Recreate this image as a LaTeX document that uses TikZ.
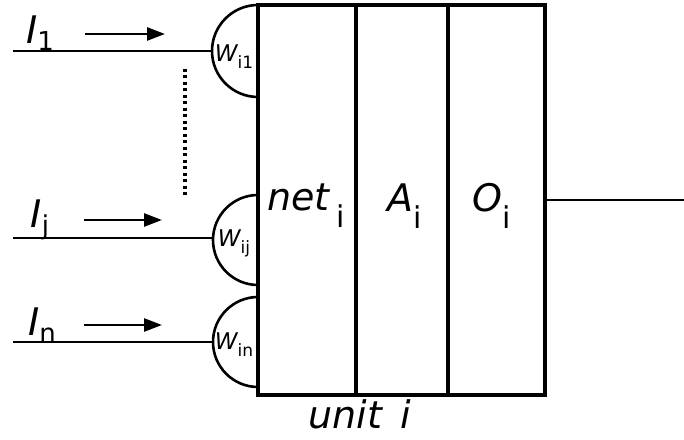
\documentclass[tikz,border=0pt]{standalone}
\usepackage{fontspec}
\setmainfont{DejaVu Sans}
\usetikzlibrary{arrows.meta}
\begin{document}
\begin{tikzpicture}[x=1pt,y=1pt,
  thick line/.style={line width=3.2pt},
  thin line/.style={line width=2.6pt},
  inarrow/.style={line width=2.6pt,-{Triangle[length=18pt,width=13pt]}},
  big/.style={font=\fontsize{38}{40}\selectfont\itshape},
  wlab/.style={font=\fontsize{23}{25}\selectfont\itshape, inner sep=0pt},
  inlab/.style={font=\fontsize{38}{40}\selectfont\itshape, inner sep=0pt}]
\useasboundingbox (0,0) rectangle (684,439);
% unit box
\coordinate (bl) at (258,44);
\coordinate (tr) at (545,434);
\draw[thick line] (bl) rectangle (tr);
\draw[thick line] (356,44) -- (356,434);
\draw[thick line] (448,44) -- (448,434);
% output
\coordinate (outS) at (545,239);
\coordinate (outE) at (684,239);
\draw[thin line] (outS) -- (outE);
% weight semicircles
\draw[thin line] (258,434) arc[start angle=90,end angle=270,radius=46];
\draw[thin line] (258,244) arc[start angle=90,end angle=270,radius=45];
\draw[thin line] (258,142) arc[start angle=90,end angle=270,radius=45];
\coordinate (w1) at (212,388);
\coordinate (wj) at (213,201);
\coordinate (wn) at (213,97);
% input lines
\coordinate (s1) at (13,388);
\coordinate (sj) at (13,201);
\coordinate (sn) at (13,97);
\draw[thin line] (s1) -- (w1);
\draw[thin line] (sj) -- (wj);
\draw[thin line] (sn) -- (wn);
% arrows
\coordinate (a1s) at (85,405); \coordinate (a1e) at (165,405);
\coordinate (ajs) at (84,219); \coordinate (aje) at (162,219);
\coordinate (ans) at (84,114); \coordinate (ane) at (162,114);
\draw[inarrow] (a1s) -- (a1e);
\draw[inarrow] (ajs) -- (aje);
\draw[inarrow] (ans) -- (ane);
% dotted
\coordinate (d1) at (185,370); \coordinate (d2) at (185,243);
\draw[line width=3.5pt, dash pattern=on 3pt off 3.5pt] (d1) -- (d2);
% labels
\node[inlab] (I1) at (40,406) {I\raisebox{-0.2em}{\upshape\fontsize{26}{28}\selectfont 1}};
\node[inlab] (Ij) at (40,219) {I\raisebox{-0.2em}{\upshape\fontsize{26}{28}\selectfont j}};
\node[inlab] (In) at (42,114) {I\raisebox{-0.2em}{\upshape\fontsize{26}{28}\selectfont n}};
\node[wlab] (W1) at (234,382) {W\raisebox{-0.3em}{\upshape\fontsize{17}{19}\selectfont i1}};
\node[wlab] (Wj) at (234,196) {W\raisebox{-0.3em}{\upshape\fontsize{17}{19}\selectfont ij}};
\node[wlab] (Wn) at (234,94) {W\raisebox{-0.3em}{\upshape\fontsize{17}{19}\selectfont in}};
\node[big] (net) at (306,233) {net\,\raisebox{-0.45em}{\upshape\fontsize{30}{32}\selectfont i}};
\node[big] (A) at (405,233) {A\raisebox{-0.45em}{\upshape\fontsize{30}{32}\selectfont i}};
\node[big] (O) at (492,233) {O\raisebox{-0.45em}{\upshape\fontsize{30}{32}\selectfont i}};
\node[big] (unit) at (360,25) {unit\, i};
\end{tikzpicture}
\end{document}
